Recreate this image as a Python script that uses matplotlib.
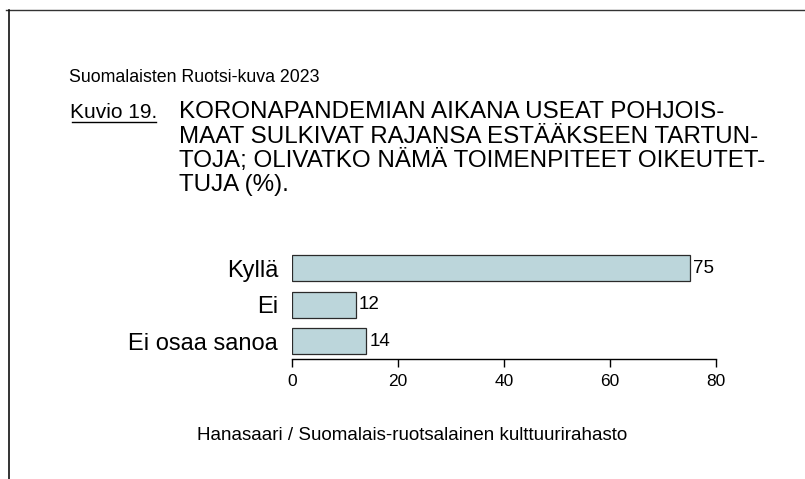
import matplotlib.pyplot as plt
from matplotlib.lines import Line2D

plt.rcParams['font.family'] = ['Liberation Sans', 'DejaVu Sans']

# data
categories = ['Kyllä', 'Ei', 'Ei osaa sanoa']
values = [75, 12, 14]
xticks = [0, 20, 40, 60, 80]

header = 'Suomalaisten Ruotsi-kuva 2023'
fig_no = 'Kuvio 19.'
title_lines = ['KORONAPANDEMIAN AIKANA USEAT POHJOIS-',
               'MAAT SULKIVAT RAJANSA ESTÄÄKSEEN TARTUN-',
               'TOJA; OLIVATKO NÄMÄ TOIMENPITEET OIKEUTET-',
               'TUJA (%).']
source = 'Hanasaari / Suomalais-ruotsalainen kulttuurirahasto'

W, H = 805, 479
fig = plt.figure(figsize=(W / 100, H / 100), dpi=100)

# outer frame: top and left lines only
fig.add_artist(Line2D([6 / W, 1], [1 - 10 / H, 1 - 10 / H], color='#333333', lw=1))
fig.add_artist(Line2D([9 / W, 9 / W], [0, 1 - 10 / H], color='#111111', lw=1.2))

ax = fig.add_axes([292 / W, 1 - 359 / H, 424 / W, (359 - 249.75) / H])
y = list(range(len(categories)))
ax.barh(y, values, height=0.71, color='#bcd6db', edgecolor='#2a2a2a', linewidth=0.9)
for yi, v in zip(y, values):
    ax.text(v + 0.6, yi, str(v), va='center', ha='left', fontsize=13.5,
            family=['Liberation Sans Narrow', 'Liberation Sans'])

ax.set_xlim(0, 80)
ax.set_ylim(2.49, -0.5)
ax.set_xticks(xticks)
ax.set_xticklabels([str(t) for t in xticks], fontsize=12.5)
ax.set_yticks(y)
ax.set_yticklabels(categories, fontsize=17)
ax.tick_params(axis='y', length=0, pad=10)
ax.tick_params(axis='x', length=6, width=1, direction='out', pad=5)
for s in ['top', 'right', 'left']:
    ax.spines[s].set_visible(False)
ax.spines['bottom'].set_linewidth(1)

# texts
fig.text(69 / W, 1 - 82 / H, header, fontsize=12.8, va='baseline', ha='left')
t = fig.text(70 / W, 1 - 118 / H, fig_no, fontsize=15, va='baseline', ha='left')
baselines = [118, 142.5, 167, 191.5]
for line, b in zip(title_lines, baselines):
    fig.text(179 / W, 1 - b / H, line, fontsize=17.4, va='baseline', ha='left')
fig.text(412 / W, 1 - 440 / H, source, fontsize=13.5, va='baseline', ha='center')

# underline for "Kuvio 19."
fig.canvas.draw()
bb = t.get_window_extent().transformed(fig.transFigure.inverted())
fig.add_artist(Line2D([bb.x0 + 0.002, bb.x1 - 0.002], [1 - 121.5 / H, 1 - 121.5 / H],
                      color='black', lw=1))

fig.savefig('out.png', dpi=100)
